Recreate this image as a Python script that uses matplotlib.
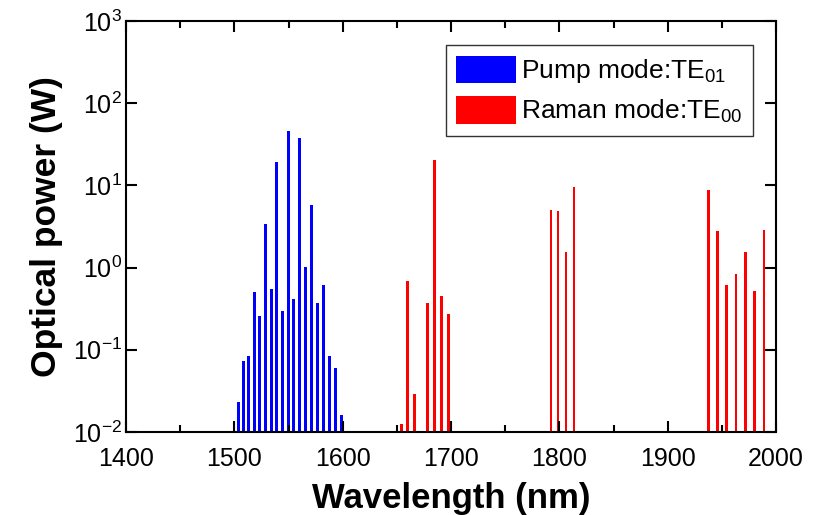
import matplotlib
matplotlib.use("Agg")
import matplotlib.pyplot as plt
from matplotlib.ticker import MultipleLocator, LogLocator, NullLocator

plt.rcParams['font.family'] = ['Liberation Sans', 'DejaVu Sans']
plt.rcParams['mathtext.fontset'] = 'custom'
plt.rcParams['mathtext.rm'] = 'Liberation Sans'
plt.rcParams['mathtext.it'] = 'Liberation Sans:italic'
plt.rcParams['mathtext.bf'] = 'Liberation Sans:bold'

# Pump mode (TE01) spectral lines
pump_wl = [1503.5, 1508.2, 1513.1, 1518.6, 1523.6, 1528.8, 1534.0, 1539.0, 1544.2,
           1549.8, 1554.7, 1559.9, 1565.5, 1571.0, 1576.6, 1582.1, 1587.7, 1593.2, 1599.0]
pump_pw = [0.023, 0.073, 0.085, 0.51, 0.26, 3.35, 0.55, 19.2, 0.30,
           45.8, 0.41, 37.6, 1.01, 5.76, 0.37, 0.61, 0.084, 0.060, 0.016]

# Raman mode (TE00) spectral lines
raman_wl = [1654.2, 1660.0, 1666.2, 1678.5, 1685.0, 1691.4, 1697.6,
            1792.3, 1798.8, 1806.1, 1813.5,
            1937.8, 1946.1, 1954.4, 1963.0, 1971.6, 1979.9, 1988.9]
raman_pw = [0.0125, 0.685, 0.029, 0.37, 20.1, 0.45, 0.27,
            5.0, 4.9, 1.55, 9.5,
            8.77, 2.78, 0.61, 0.83, 1.53, 0.52, 2.83]

fig = plt.figure(figsize=(8.21, 5.15), dpi=100)
ax = fig.add_axes([126/821, 1-432/515, 650/821, 411/515])

bw = 2.6
ax.bar(pump_wl, [p - 1e-3 for p in pump_pw], width=bw, bottom=1e-3, color='#0000ff',
       linewidth=0, label='Pump mode:TE$_{01}$')
ax.bar(raman_wl, [p - 1e-3 for p in raman_pw], width=bw, bottom=1e-3, color='#ff0000',
       linewidth=0, label='Raman mode:TE$_{00}$')

ax.set_yscale('log')
ax.set_xlim(1400, 2000)
ax.set_ylim(1e-2, 1e3)
ax.xaxis.set_major_locator(MultipleLocator(100))
ax.xaxis.set_minor_locator(MultipleLocator(50))
ax.yaxis.set_major_locator(LogLocator(base=10, numticks=10))
ax.yaxis.set_minor_locator(NullLocator())

ax.tick_params(axis='both', which='major', direction='in', length=8, width=1.5,
               labelsize=18, top=True, right=True)
ax.tick_params(axis='x', which='minor', direction='in', length=5, width=1.5,
               top=True, bottom=True)
ax.tick_params(axis='x', which='major', pad=11)
ax.tick_params(axis='y', which='major', pad=3)
for s in ax.spines.values():
    s.set_linewidth(1.5)

ax.set_xlabel('Wavelength (nm)', fontsize=25, fontweight='bold', labelpad=8)
ax.set_ylabel('Optical power (W)', fontsize=25.5, fontweight='bold', labelpad=7)

leg = ax.legend(loc='upper right', bbox_to_anchor=(753/821, 1-45/515),
                bbox_transform=fig.transFigure, fontsize=19, frameon=True,
                fancybox=False, edgecolor='#333333', framealpha=1,
                handlelength=2.25, handleheight=1.25, handletextpad=0.2,
                borderpad=0.4, labelspacing=0.4, borderaxespad=0)
leg.get_frame().set_linewidth(1.0)

fig.savefig('out.png', dpi=100)
